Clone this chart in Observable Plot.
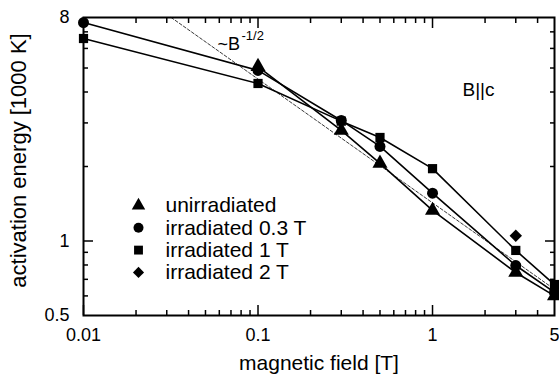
<!DOCTYPE html>
<html>
<head>
<meta charset="utf-8">
<script src="https://cdn.jsdelivr.net/npm/d3@7"></script>
<script src="https://cdn.jsdelivr.net/npm/@observablehq/plot@0.6"></script>
<style>
  html, body { margin: 0; padding: 0; background: #fff; }
  #chart { width: 559px; height: 383px; }
  svg { font-family: "Liberation Sans", Arial, sans-serif; }
</style>
</head>
<body>
<div id="chart"></div>
<script>
// ---- data (magnetic field in T, activation energy in 1000 K) ----
const unirrField = [0.1, 0.3, 0.5, 1, 3, 5];
const unirrEnergy = [5.07, 2.80, 2.06, 1.33, 0.746, 0.60];

const irr03Field = [0.01, 0.1, 0.3, 0.5, 1, 3, 5];
const irr03Energy = [7.63, 4.89, 3.07, 2.41, 1.56, 0.796, 0.62];

const irr1Field = [0.01, 0.1, 0.3, 0.5, 1, 3, 5];
const irr1Energy = [6.58, 4.33, 3.05, 2.62, 1.96, 0.916, 0.667];

const irr2Field = [3];
const irr2Energy = [1.05];

// ~B^-1/2 guide line
const guideField = [0.0318, 5];
const guideEnergy = [8, 0.638];

const xTickLabels = [0.01, 0.1, 1, 5];
const xMajor = [0.01, 0.1, 1];
const xMinor = [0.02,0.03,0.04,0.05,0.06,0.07,0.08,0.09,0.2,0.3,0.4,0.5,0.6,0.7,0.8,0.9,2,3,4];
const yTickLabels = [0.5, 1, 8];
const yMajor = [1];
const yMinor = [0.6,0.7,0.8,0.9,2,3,4,5,6,7];

const legendLabels = ["unirradiated", "irradiated 0.3 T", "irradiated 1 T", "irradiated 2 T"];
const legendSymbols = ["triangle", "circle", "square", "diamond2"];

const series = [
  {x: unirrField, y: unirrEnergy, symbol: "triangle", r: 5.6, line: true},
  {x: irr03Field, y: irr03Energy, symbol: "circle", r: 5.5, line: true},
  {x: irr1Field, y: irr1Energy, symbol: "square", r: 5.2, line: true},
  {x: irr2Field, y: irr2Energy, symbol: "diamond2", r: 5.6, line: false}
];

const toRows = (xs, ys) => xs.map((x, i) => ({x, y: ys[i]}));

const tickW = 1.5;
const majorLen = 10, minorLen = 5;

function tickAxes(values, len) {
  return [
    Plot.axisX(values, {anchor: "bottom", tickSize: len, dy: -len, fill: "none", label: null, strokeWidth: tickW}),
    Plot.axisX(values, {anchor: "top", tickSize: len, dy: len, fill: "none", label: null, strokeWidth: tickW})
  ];
}
function tickAxesY(values, len) {
  return [
    Plot.axisY(values, {anchor: "left", tickSize: len, dx: len, fill: "none", label: null, strokeWidth: tickW}),
    Plot.axisY(values, {anchor: "right", tickSize: len, dx: -len, fill: "none", label: null, strokeWidth: tickW})
  ];
}

const marks = [];
// guide line
marks.push(Plot.line(toRows(guideField, guideEnergy), {x: "x", y: "y", stroke: "#222", strokeWidth: 0.9, strokeDasharray: "3,2"}));
// series lines
for (const s of series) {
  if (s.line) marks.push(Plot.line(toRows(s.x, s.y), {x: "x", y: "y", stroke: "black", strokeWidth: 1.6}));
}
// markers
for (const s of series) {
  marks.push(Plot.dot(toRows(s.x, s.y), {x: "x", y: "y", symbol: () => s.symbol, r: s.r, fill: "black", stroke: "none"}));
}
// ticks
marks.push(...tickAxes(xMajor, majorLen), ...tickAxes(xMinor, minorLen));
marks.push(...tickAxesY(yMajor, majorLen), ...tickAxesY(yMinor, minorLen));
// tick labels
marks.push(Plot.axisX(xTickLabels, {anchor: "bottom", tickSize: 0, tickPadding: 13, fontSize: 18, label: null, text: d => String(d)}));
marks.push(Plot.axisY(yTickLabels, {anchor: "left", tickSize: 0, tickPadding: 14, fontSize: 18, label: null, text: d => String(d)}));
// frame
marks.push(Plot.frame({stroke: "black", strokeWidth: 2}));
// axis titles
marks.push(Plot.text(["magnetic field [T]"], {frameAnchor: "bottom", dy: 48, fontSize: 21, textAnchor: "middle", lineAnchor: "middle", fill: "black"}));
marks.push(Plot.text(["activation energy [1000 K]"], {frameAnchor: "left", dx: -65, dy: -6, rotate: -90, fontSize: 22, textAnchor: "middle", lineAnchor: "middle", fill: "black"}));
// annotations
marks.push(Plot.text(["B||c"], {frameAnchor: "top-left", dx: 379, dy: 72, fontSize: 19, textAnchor: "start", lineAnchor: "middle", fill: "black"}));
marks.push(Plot.text(["~B"], {frameAnchor: "top-left", dx: 134, dy: 27, fontSize: 18, textAnchor: "start", lineAnchor: "middle", fill: "black"}));
marks.push(Plot.text(["-1/2"], {frameAnchor: "top-left", dx: 158, dy: 18, fontSize: 13, textAnchor: "start", lineAnchor: "middle", fill: "black"}));
// legend
legendLabels.forEach((lab, i) => {
  marks.push(Plot.dot([lab], {frameAnchor: "top-left", dx: 55, dy: 188 + 22.3 * i, symbol: () => legendSymbols[i], r: 5, fill: "black", stroke: "none"}));
  marks.push(Plot.text([lab], {frameAnchor: "top-left", dx: 82, dy: 188 + 22.3 * i, fontSize: 21, textAnchor: "start", lineAnchor: "middle", fill: "black"}));
});

const chart = Plot.plot({
  width: 559,
  height: 383,
  marginLeft: 83,
  marginRight: 5,
  marginTop: 17,
  marginBottom: 68,
  style: {fontFamily: "'Liberation Sans', Arial, sans-serif", color: "black", background: "white"},
  x: {type: "log", domain: [0.01, 5]},
  y: {type: "log", domain: [0.5, 8]},
  symbol: {type: "identity"},
  marks
});
document.getElementById("chart").appendChild(chart);
</script>
</body>
</html>
